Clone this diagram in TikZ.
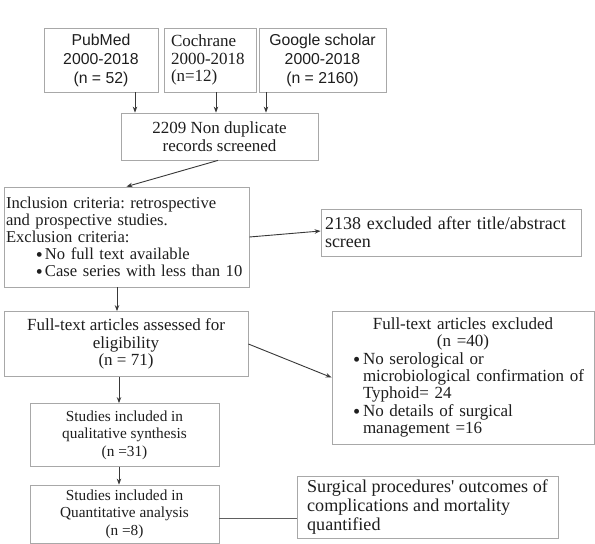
\documentclass[tikz,border=0pt]{standalone}
\usepackage{fontspec}
\setmainfont{Liberation Serif}
\newfontfamily\sansfam{Liberation Sans}
\usetikzlibrary{arrows.meta}
\frenchspacing
\definecolor{boxgray}{HTML}{A8A8A8}
\definecolor{linegray}{HTML}{383838}
\definecolor{textdark}{HTML}{1E1E1E}
\newcommand{\bul}{\smash{\raisebox{-0.11em}{\scalebox{1.2}{•}}}}
\begin{document}
\begin{tikzpicture}[x=1pt,y=-1pt,
  box/.style={draw=boxgray, line width=0.8pt, rectangle, inner sep=0pt, text=textdark},
  sansA/.style={font=\sansfam\fontsize{15.8}{19}\selectfont},
  serA/.style={font=\fontsize{17}{17.4}\selectfont},
  serB/.style={font=\fontsize{15.3}{17.5}\selectfont},
  serC/.style={font=\fontsize{16.6}{17}\selectfont},
  serD/.style={font=\fontsize{18}{18.3}\selectfont},
  serE/.style={font=\fontsize{18.1}{19.2}\selectfont},
  arr/.style={draw=linegray, line width=0.9pt, -{Stealth[length=6pt,width=4.5pt]}},
  plain/.style={draw=linegray!80, line width=1pt}]
\useasboundingbox[fill=white] (0,0) rectangle (595,544);

% top sources
\node[box, sansA, align=center, minimum width=114pt, minimum height=64pt] (pub) at (101,60)
  {PubMed\\2000-2018\\(n = 52)};
\node[box, serA, align=left, text width=78pt, minimum width=92pt, minimum height=64pt] (coch) at (210,60)
  {Cochrane\\2000-2018\\(n=12)};
\node[box, sansA, align=center, minimum width=127pt, minimum height=64pt] (goog) at (322.5,60)
  {Google scholar\\2000-2018\\(n = 2160)};

\node[box, serA, align=center, minimum width=197pt, minimum height=47pt] (dup) at (219.5,136.5)
  {2209 Non duplicate\\records screened};

\node[box, serC, align=left, text width=241pt, minimum width=245pt, minimum height=100pt] (incl) at (126.5,237)
  {\mbox{Inclusion criteria: retrospective}\\
   \mbox{and prospective studies.}\\
   \mbox{Exclusion criteria:}\\
   \mbox{\hspace*{30pt}\makebox[9pt][l]{\bul}No full text available}\\
   \mbox{\hspace*{30pt}\makebox[9pt][l]{\bul}Case series with less than 10}};

\node[box, serD, align=left, text width=252pt, minimum width=260pt, minimum height=47pt] (ex1) at (451,232.5)
  {2138 excluded after title/abstract\\screen};

\node[box, serA, align=center, minimum width=244pt, minimum height=65pt] (full) at (126,344)
  {Full-text articles assessed for\\eligibility\\(n = 71)};

\node[box, serA, align=center, text width=254pt, minimum width=262pt, minimum height=133pt] (ex2) at (463,377.5)
  {Full-text articles excluded\\
   (n =40)\\
   \makebox[\linewidth][l]{\hspace*{17pt}\makebox[10pt][l]{\bul}No serological or}\\
   \makebox[\linewidth][l]{\hspace*{27pt}microbiological confirmation of}\\
   \makebox[\linewidth][l]{\hspace*{27pt}Typhoid= 24}\\
   \makebox[\linewidth][l]{\hspace*{17pt}\makebox[10pt][l]{\bul}No details of surgical}\\
   \makebox[\linewidth][l]{\hspace*{27pt}management =16}};

\node[box, serB, align=center, minimum width=189pt, minimum height=63pt] (qual) at (124.5,435)
  {Studies included in\\qualitative synthesis\\(n =31)};

\node[box, serB, align=center, minimum width=189pt, minimum height=58pt] (quant) at (124.5,514)
  {Studies included in\\Quantitative analysis\\(n =8)};

\node[box, serE, align=left, minimum width=261pt, minimum height=62pt] (surg) at (427.5,507)
  {Surgical procedures\textquotesingle{} outcomes of\\complications and mortality\\quantified};

% connectors
\draw[arr] ([xshift=34pt]pub.south) -- ([xshift=34pt]pub.south |- dup.north);
\draw[arr] ([xshift=6pt]coch.south) -- ([xshift=6pt]coch.south |- dup.north);
\draw[arr] ([xshift=-56.5pt]goog.south) -- ([xshift=-56.5pt]goog.south |- dup.north);
\draw[arr] ([xshift=-1.5pt]dup.south) -- (incl.north);
\draw[arr] (incl.east) -- ([yshift=1.5pt]ex1.west);
\draw[arr] ([xshift=-9.5pt]incl.south) -- ([xshift=-9.5pt]incl.south |- full.north);
\draw[arr] (full.east) -- (ex2.west);
\draw[arr] ([xshift=-7pt]full.south) -- ([xshift=-7pt]full.south |- qual.north);
\draw[arr] ([xshift=-5.5pt]qual.south) -- ([xshift=-5.5pt]qual.south |- quant.north);
\draw[plain] ([yshift=-4pt]quant.east) -- ([yshift=-4pt]quant.east -| surg.west);
\end{tikzpicture}
\end{document}
